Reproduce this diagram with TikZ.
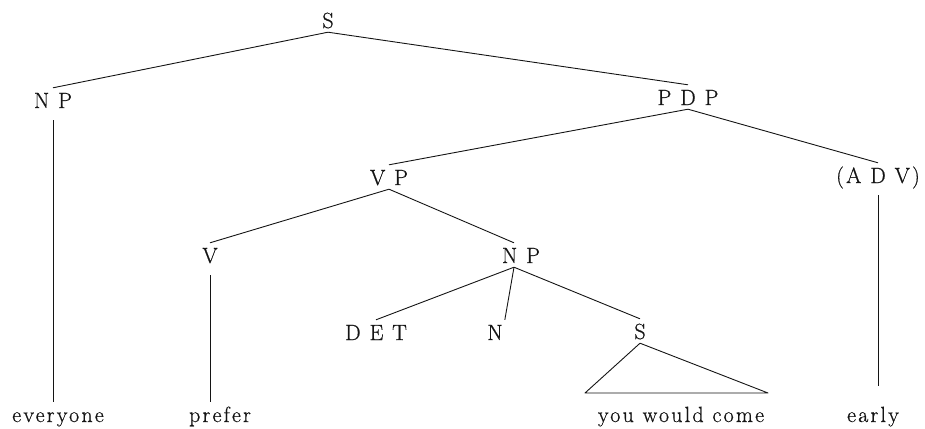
\documentclass[tikz,border=0pt]{standalone}
\usepackage{fontspec}
\newfontfamily\treefont{Latin Modern Roman}[LetterSpace=10,FakeBold=0.6]
\usepackage{tikz}
\definecolor{trink}{RGB}{20,20,20}
\tikzset{
  lbl/.style={
    font=\treefont\fontsize{22}{26}\selectfont, text=trink,
    inner sep=2pt, text height=18pt, text depth=2pt, anchor=base
  },
  cat/.style={lbl},
  word/.style={lbl},
  edge/.style={draw=trink, line width=0.9pt, line join=round},
  stem/.style={edge, shorten <=8pt}
}
\begin{document}
\begin{tikzpicture}[x=1pt, y=-1pt]
  \useasboundingbox (0,0) rectangle (925,428);

  % categories
  \node[cat] (s) at (328,28) {S};
  \node[cat] (np) at (53,108) {N P};
  \node[cat] (pdp) at (688,105) {P D P};
  \node[cat] (vp) at (389,185) {V P};
  \node[cat] (adv) at (878,183) {(A D V)};
  \node[cat] (v) at (210,263) {V};
  \node[cat] (np2) at (521,263) {N P};
  \node[cat] (det) at (376,340) {D E T};
  \node[cat] (n) at (495,340) {N};
  \node[cat] (sub) at (640,339) {S};

  % words
  \node[word] (w1) at (58,422) {everyone};
  \node[word] (w2) at (220,422) {prefer};
  \node[word] (w3) at (681,422) {you would come};
  \node[word] (w4) at (873,422) {early};

  \draw[edge] (s.south) -- (np.north);
  \draw[edge] (s.south) -- (pdp.north);
  \draw[edge] (pdp.south) -- (vp.north);
  \draw[edge] (pdp.south) -- (adv.north);
  \draw[edge] (vp.south) -- (v.north);
  \draw[edge] (vp.south) -- ([xshift=-7pt]np2.north);
  \draw[edge] ([xshift=-7pt]np2.south) -- (det.north);
  \draw[edge] ([xshift=-7pt]np2.south) -- (n.north east);
  \draw[edge] ([xshift=-7pt]np2.south) -- (sub.north);

  \draw[stem] (np.south) -- (np.south |- w1.north);
  \draw[stem] (v.south) -- (v.south |- w2.north);
  \draw[stem, shorten >=16pt] (adv.south) -- (adv.south |- w4.north);

  % triangle over the embedded clause
  \coordinate (tl) at (585,393);
  \coordinate (tr) at (768,393);
  \draw[edge] (sub.south) -- (tl) -- (tr) -- cycle;
\end{tikzpicture}
\end{document}
